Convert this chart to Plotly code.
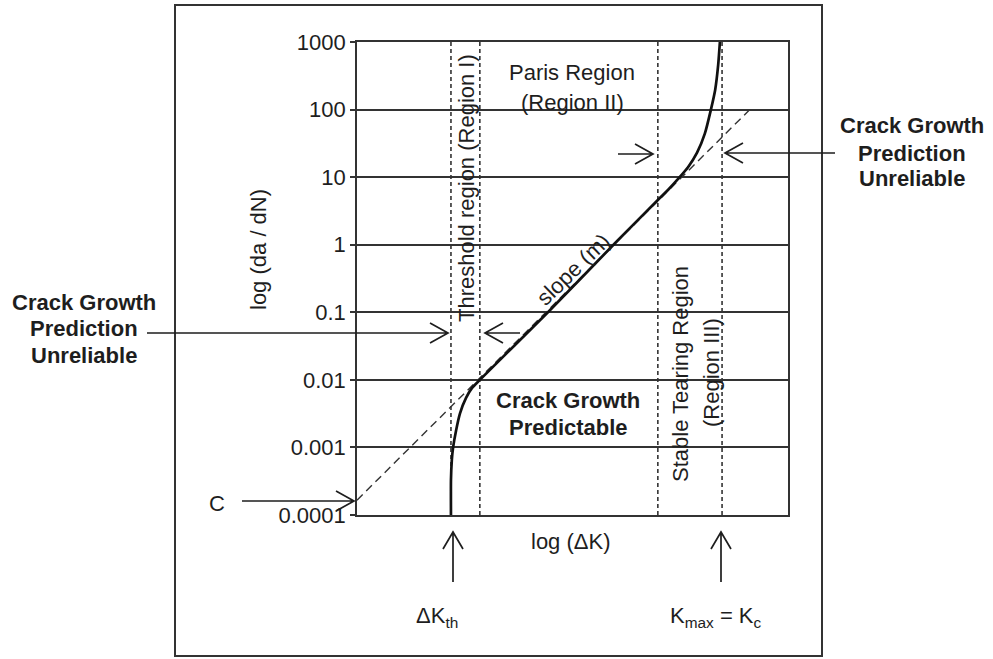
import math
import plotly.graph_objects as go

# ---------------- data ----------------
# x axis: log(ΔK) in arbitrary units (0..1), y axis: da/dN (log scale)
ytick_vals = [1e-4, 1e-3, 1e-2, 1e-1, 1, 10, 100, 1000]
ytick_text = ["0.0001", "0.001", "0.01", "0.1", "1", "10", "100", "1000"]

curve_x = [0.218, 0.218, 0.220, 0.223, 0.230, 0.239, 0.253, 0.267, 0.285,
           0.443, 0.599, 0.698, 0.722, 0.745, 0.768, 0.789, 0.807, 0.821,
           0.831, 0.838, 0.842]
curve_y = [1.0e-4, 3.3e-4, 6.5e-4, 1.0e-3, 1.8e-3, 3.2e-3, 5.4e-3, 7.6e-3, 1.0e-2,
           0.1, 1.06, 4.6, 6.5, 9.4, 14, 23, 44, 99,
           195, 457, 1000]

paris_x = [0.0, 0.919]
paris_y = [1.66e-4, 112]

region_bounds = [0.218, 0.285, 0.698, 0.847]

# ---------------- layout helpers (pixel -> paper) ----------------
L, R, T, B = 357, 788, 42, 515
W, H = 993, 659


def xp(px):
    return (px - L) / (R - L)


def yp(py):
    return (B - py) / (B - T)


FONT = "Liberation Sans, Arial, sans-serif"
INK = "#1e1e1e"
GRID = "#333333"

fig = go.Figure()

# vertical dashed region boundaries
vx, vy = [], []
for b in region_bounds:
    vx += [b, b, None]
    vy += [1e-4, 1e3, None]
fig.add_trace(go.Scatter(x=vx, y=vy, mode="lines",
                         line=dict(color=GRID, width=1.6, dash="4px,3px"),
                         hoverinfo="skip", showlegend=False))

# Paris law dashed line
fig.add_trace(go.Scatter(x=paris_x, y=paris_y, mode="lines",
                         line=dict(color="#333333", width=1.4, dash="8px,5px"),
                         showlegend=False))

# crack growth curve
fig.add_trace(go.Scatter(x=curve_x, y=curve_y, mode="lines",
                         line=dict(color="#111111", width=2.7, shape="spline", smoothing=0.5),
                         showlegend=False))

shapes = []
# outer frame
shapes.append(dict(type="rect", xref="paper", yref="paper",
                   x0=xp(175), x1=xp(822), y0=yp(656), y1=yp(5),
                   line=dict(color="#333333", width=2)))


def arrow(x0, y0, x1, y1, back=18, half=10):
    dx, dy = x1 - x0, y1 - y0
    n = math.hypot(dx, dy)
    ux, uy = dx / n, dy / n
    px_, py_ = -uy, ux
    w1 = (x1 - back * ux + half * px_, y1 - back * uy + half * py_)
    w2 = (x1 - back * ux - half * px_, y1 - back * uy - half * py_)
    path = (f"M {xp(x0)},{yp(y0)} L {xp(x1)},{yp(y1)} "
            f"M {xp(w1[0])},{yp(w1[1])} L {xp(x1)},{yp(y1)} L {xp(w2[0])},{yp(w2[1])}")
    return dict(type="path", xref="paper", yref="paper", path=path,
                line=dict(color=INK, width=1.7))


shapes += [
    arrow(242, 501, 354, 501),
    arrow(147, 333, 448, 333),
    arrow(520, 333, 485, 333),
    arrow(618, 154, 653, 154),
    arrow(835, 153, 725, 153),
    arrow(453, 582, 453, 532, back=17, half=10),
    arrow(721, 582, 721, 532, back=17, half=10),
]

annotations = []


def txt(text, px, py, size=22, angle=0, bold=False):
    if bold:
        text = f"<b>{text}</b>"
    annotations.append(dict(text=text, xref="paper", yref="paper",
                            x=xp(px), y=yp(py), xanchor="center", yanchor="middle",
                            showarrow=False, textangle=angle,
                            font=dict(family=FONT, size=size, color=INK)))


txt("Paris Region", 572, 73)
txt("(Region II)", 572, 102)
txt("Threshold region (Region I)", 466, 188, angle=-90)
txt("slope (m)", 573, 269, angle=-44)
txt("Crack Growth", 568, 400, bold=True)
txt("Predictable", 568, 427, bold=True)
txt("Stable Tearing Region", 680, 374, angle=-90)
txt("(Region III)", 712, 373, angle=-90)
txt("Crack Growth", 84, 302, bold=True)
txt("Prediction", 84, 328, bold=True)
txt("Unreliable", 84, 355, bold=True)
txt("Crack Growth", 912, 125, bold=True)
txt("Prediction", 912, 153, bold=True)
txt("Unreliable", 912, 179, bold=True)
txt("C", 217, 503)
txt("log (ΔK)", 571, 541)
txt("ΔK<sub>th</sub>", 437, 617)
txt("K<sub>max</sub> = K<sub>c</sub>", 716, 617)
txt("log (da / dN)", 258, 250, angle=-90)

fig.update_layout(
    width=W, height=H, autosize=False,
    margin=dict(l=L, r=W - R, t=T, b=H - B, pad=0),
    paper_bgcolor="white", plot_bgcolor="white",
    shapes=shapes, annotations=annotations,
    showlegend=False,
    font=dict(family=FONT, size=22, color=INK),
)
fig.update_xaxes(range=[0, 1], showgrid=False, zeroline=False,
                 showticklabels=False, ticks="",
                 showline=True, mirror=True, linecolor=GRID, linewidth=1.7)
fig.update_yaxes(type="log", range=[-4, 3], tickvals=ytick_vals, ticktext=ytick_text,
                 showgrid=True, gridcolor=GRID, gridwidth=1.6, zeroline=False,
                 ticks="outside", ticklen=5, tickcolor=GRID, tickwidth=1.6,
                 showline=True, mirror=True, linecolor=GRID, linewidth=1.7,
                 tickfont=dict(family=FONT, size=22, color=INK))

fig.write_html("out.html")
